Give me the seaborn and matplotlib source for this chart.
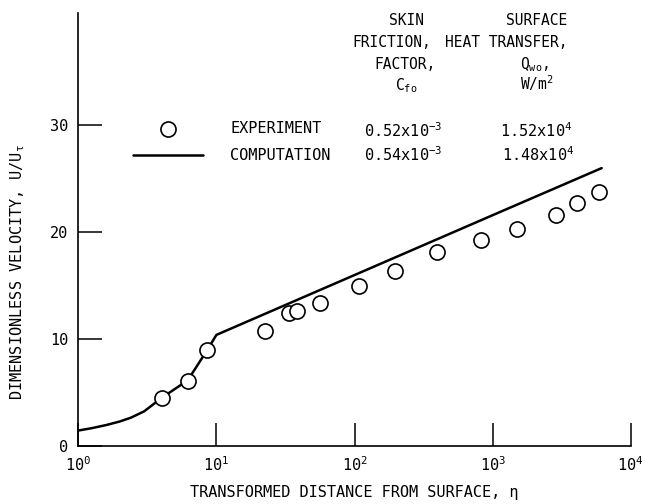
import matplotlib
matplotlib.use("Agg")
import matplotlib.pyplot as plt
import seaborn as sns
import pandas as pd

# ---- data ----
eta_exp = [4.06, 6.2, 8.55, 22.4, 33.6, 38.5, 56.2, 108, 196, 394, 820, 1496, 2877, 4103, 5927]
u_exp = [4.48, 6.07, 8.94, 10.75, 12.38, 12.62, 13.31, 14.96, 16.37, 18.15, 19.24, 20.24, 21.58, 22.73, 23.76]

eta_comp = [1.0, 1.25, 1.6, 2.0, 2.4, 3.0, 4.06, 6.2, 8.55, 10.0, 100, 1000, 6166]
u_comp = [1.4, 1.62, 1.92, 2.25, 2.6, 3.2, 4.5, 6.1, 8.9, 10.35, 15.95, 21.55, 25.96]

series_labels = ["EXPERIMENT", "COMPUTATION"]
cf_values = ["0.52x10$^{-3}$", "0.54x10$^{-3}$"]
q_values = ["1.52x10$^{4}$", "1.48x10$^{4}$"]
x_ticks = [1, 10, 100, 1000, 10000]
y_ticks = [0, 10, 20, 30]

sns.set_theme(style="ticks")
plt.rcParams["font.family"] = ["DejaVu Sans Mono", "DejaVu Sans"]
plt.rcParams["mathtext.fontset"] = "custom"
plt.rcParams["mathtext.rm"] = "DejaVu Sans Mono"
plt.rcParams["mathtext.it"] = "DejaVu Sans Mono"
plt.rcParams["mathtext.bf"] = "DejaVu Sans Mono:bold"
plt.rcParams["text.color"] = "black"
plt.rcParams["axes.labelcolor"] = "black"
plt.rcParams["xtick.color"] = "black"
plt.rcParams["ytick.color"] = "black"

W, H = 645, 504
fig = plt.figure(figsize=(W / 100, H / 100), dpi=100)
ax = fig.add_axes([78.3 / W, 1 - 445.5 / H, (630.7 - 78.3) / W, (445.5 - 12.7) / H])
ax.set_xscale("log")

df_exp = pd.DataFrame({"eta": eta_exp, "u": u_exp})
df_comp = pd.DataFrame({"eta": eta_comp, "u": u_comp})

sns.lineplot(data=df_comp, x="eta", y="u", ax=ax, color="black", lw=1.8,
             label=series_labels[1], zorder=2, sort=True)
sns.scatterplot(data=df_exp, x="eta", y="u", ax=ax, marker="o", s=118,
                facecolor="white", edgecolor="black", linewidth=1.2,
                label=series_labels[0], zorder=3)

ax.set_xlim(1, 10000)
ax.set_ylim(0, 40.5)
ax.set_xticks(x_ticks)
ax.set_yticks(y_ticks)
ax.minorticks_off()
for s in ["top", "right"]:
    ax.spines[s].set_visible(False)
for s in ["left", "bottom"]:
    ax.spines[s].set_linewidth(1.2)
    ax.spines[s].set_color("black")
ax.tick_params(axis="y", direction="in", length=17.3, width=1.1, pad=7,
               labelsize=11, colors="black")
ax.tick_params(axis="x", direction="in", length=16.3, width=1.1, pad=7,
               labelsize=11, colors="black")

ax.set_xlabel("TRANSFORMED DISTANCE FROM SURFACE, η", fontsize=11, color="black")
ax.set_ylabel("DIMENSIONLESS VELOCITY, U/U$_{\\tau}$", fontsize=11, color="black")
ax.xaxis.set_label_coords(0.5, -0.091)
ax.yaxis.set_label_coords(-0.093, 0.40)

# legend (handles from the seaborn artists)
h, l = ax.get_legend_handles_labels()
order = [l.index(series_labels[0]), l.index(series_labels[1])]
leg = ax.legend([h[i] for i in order], [l[i] for i in order], loc="upper left",
                bbox_to_anchor=(133 / W, 1 - 121 / H), bbox_transform=fig.transFigure,
                frameon=False, borderpad=0, borderaxespad=0, handlelength=4.6,
                handletextpad=1.75, labelspacing=0.78, fontsize=11,
                labelcolor="black")

def fx(x):
    return x / W

def fy(y):
    return 1 - y / H

kw = dict(fontsize=10.5, color="black", va="baseline")
# column headers
fig.text(fx(406), fy(25), "SKIN", ha="center", **kw)
fig.text(fx(392), fy(47), "FRICTION,", ha="center", **kw)
fig.text(fx(405), fy(69), "FACTOR,", ha="center", **kw)
fig.text(fx(406), fy(90), "C$_{\\mathrm{fo}}$", ha="center", **kw)
fig.text(fx(537), fy(25), "SURFACE", ha="center", **kw)
fig.text(fx(506), fy(47), "HEAT TRANSFER,", ha="center", **kw)
fig.text(fx(535), fy(69), "Q$_{\\mathrm{wo}}$,", ha="center", **kw)
fig.text(fx(537), fy(90), "W/m$^{2}$", ha="center", **kw)
# values
kv = dict(fontsize=11, color="black", va="baseline")
fig.text(fx(364), fy(137), cf_values[0], ha="left", **kv)
fig.text(fx(500), fy(137), q_values[0], ha="left", **kv)
fig.text(fx(364), fy(161), cf_values[1], ha="left", **kv)
fig.text(fx(502), fy(161), q_values[1], ha="left", **kv)

fig.savefig("out.png", dpi=100)
